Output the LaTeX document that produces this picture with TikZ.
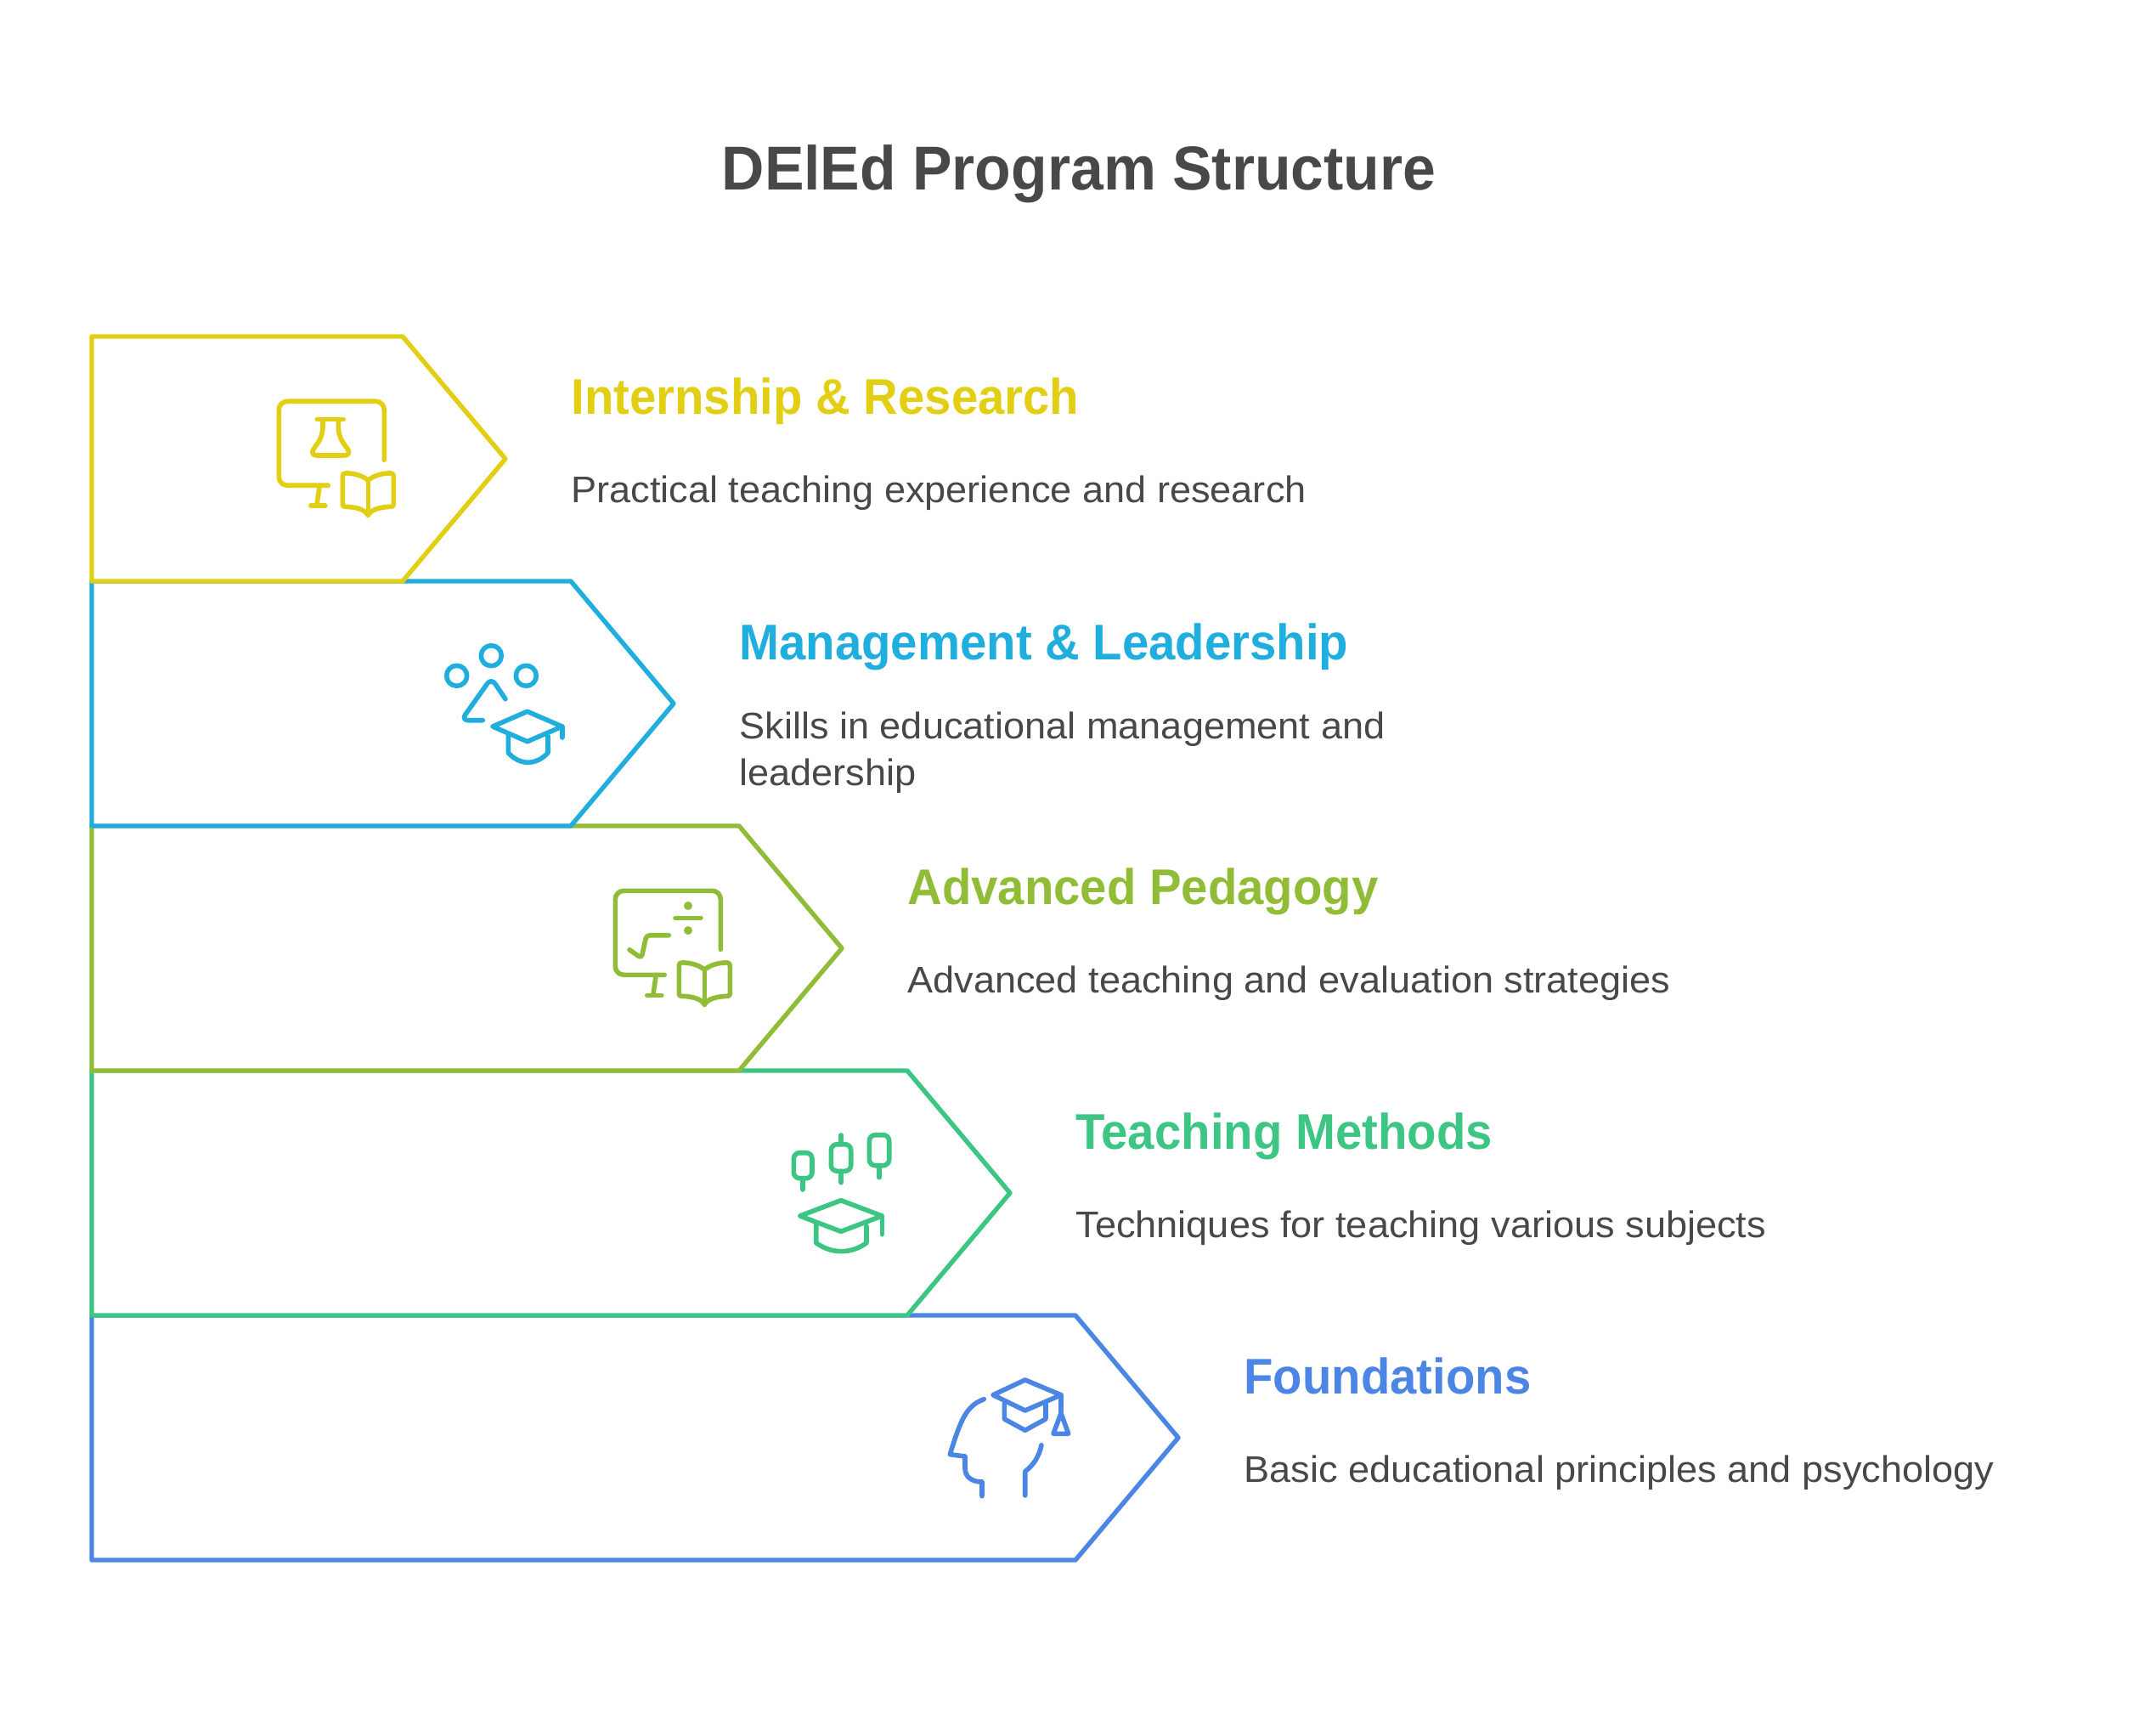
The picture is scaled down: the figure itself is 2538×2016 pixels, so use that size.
\documentclass[tikz,border=0pt]{standalone}
\usepackage{fontspec}
\setmainfont[FakeStretch=1.035]{Liberation Sans}
\newfontfamily\headfont[FakeStretch=0.955,UprightFont={* Bold}]{Liberation Sans}
\usetikzlibrary{positioning}

\definecolor{yellowc}{HTML}{E2CF14}
\definecolor{bluec}{HTML}{1FAEDD}
\definecolor{greenc}{HTML}{91BC38}
\definecolor{tealc}{HTML}{3CC583}
\definecolor{indigoc}{HTML}{4C86E4}
\definecolor{textc}{HTML}{484848}

\tikzset{
  pics/screenbook/.style={code={
      % screen and stand
      \draw[rounded corners=5pt] (58,99) -- (0,99) -- (0,0) -- (124,0) -- (124,69);
      \draw (48,99) -- (44.5,123);
      \draw (37.5,123) -- (54.5,123);
      % book
      \begin{scope}[shift={(105,93)}]
        \draw (0,0) -- (0,41);
        \draw (0,0) .. controls (-6,-5) and (-14,-8) .. (-26,-8.5) .. controls (-29,-8.5) and (-30,-7) .. (-30,-5) -- (-30,28) .. controls (-30,30) and (-29,31) .. (-27,31) .. controls (-14,31.5) and (-4,34) .. (0,41);
        \draw (0,0) .. controls (6,-5) and (14,-8) .. (26,-8.5) .. controls (29,-8.5) and (30,-7) .. (30,-5) -- (30,28) .. controls (30,30) and (29,31) .. (27,31) .. controls (14,31.5) and (4,34) .. (0,41);
      \end{scope}
  }}
}

\begin{document}
\begin{tikzpicture}[x=0.5pt, y=-0.5pt,
                chevron/.style={line width=2.7pt, line join=round, fill=white},
                icon/.style={line width=2.8pt, line cap=round, line join=round},
                heading/.style={anchor=base west, inner sep=0pt, font=\fontsize{29.5}{34}\headfont},
                desc/.style={anchor=base west, align=left, text=textc, inner sep=0pt, font=\fontsize{21.8}{27.2}\selectfont}]

                \useasboundingbox (0,0) rectangle (2538,2016);

                % Title
                \node[font=\fontsize{36.5}{42}\headfont, text=textc, anchor=base] (title) at (1270,224) {DElEd Program Structure};

                % Chevrons, bottom first
                \draw[chevron, draw=indigoc] (108,1548) -- (1266,1548) -- (1387,1692) -- (1266,1836) -- (108,1836) -- cycle;
                \draw[chevron, draw=tealc] (108,1260) -- (1068,1260) -- (1189,1404) -- (1068,1548) -- (108,1548) -- cycle;
                \draw[chevron, draw=greenc] (108,972) -- (870,972) -- (991,1116) -- (870,1260) -- (108,1260) -- cycle;
                \draw[chevron, draw=bluec] (108,684) -- (672,684) -- (793,828) -- (672,972) -- (108,972) -- cycle;
                \draw[chevron, draw=yellowc] (108,396) -- (474,396) -- (595,540) -- (474,684) -- (108,684) -- cycle;

                % Internship icon
                \begin{scope}[icon, draw=yellowc]
                  \pic at (328.3,472.3) {screenbook};
                  \draw (373.3,493.7) -- (404.3,493.7);
                  \draw[rounded corners=4.5pt] (380,493.7) -- (380,512.7) -- (364,536) -- (414.3,536) -- (398.3,512.7) -- (398.3,493.7);
                \end{scope}

                % Management icon
                \begin{scope}[icon, draw=bluec]
                  \draw (537.7,795.3) circle (12);
                  \draw (578.3,771.7) circle (12);
                  \draw (619.3,795.3) circle (12);
                  \draw[rounded corners=4pt] (595,822.7) -- (578.3,798) -- (543,847.7) -- (568.3,847.7);
                  \draw (620.7,837.3) -- (661.7,855) -- (620.7,872.7) -- (580,855) -- cycle;
                  \draw (661.7,855) -- (661.7,868);
                  \draw (598.3,865) -- (598.3,886) .. controls (612,901) and (631,901) .. (645,886) -- (645,866);
                \end{scope}

                % Pedagogy icon
                \begin{scope}[icon, draw=greenc]
                  \pic at (724.3,1048.3) {screenbook};
                  \draw (795,1080.3) -- (825,1080.3);
                  \fill[greenc] (810,1066) circle (5);
                  \fill[greenc] (810,1095) circle (5);
                  \draw[rounded corners=2pt] (741,1117.7) -- (755,1127.7) -- (761,1100.7) -- (787.3,1100.7);
                \end{scope}

                % Methods icon
                \begin{scope}[icon, draw=tealc]
                  \draw[rounded corners=3.5pt] (934.3,1356.7) rectangle (956,1386.7);
                  \draw (945,1386.7) -- (945,1400);
                  \draw[rounded corners=3.5pt] (978.3,1346.7) rectangle (1001.7,1378.3);
                  \draw (990,1336) -- (990,1346.7);
                  \draw (990,1378.3) -- (990,1391.7);
                  \draw[rounded corners=3.5pt] (1023.3,1335.7) rectangle (1046.7,1371.7);
                  \draw (1035,1371.7) -- (1035,1385.7);
                  \draw (990,1412.7) -- (1038.3,1431) -- (990,1449.3) -- (941.7,1431) -- cycle;
                  \draw (1038.3,1431) -- (1038.3,1452.7);
                  \draw (960.7,1441.7) -- (960.7,1462.7) .. controls (979,1476) and (1002,1476) .. (1020,1462.7) -- (1020,1442.7);
                \end{scope}

                % Foundations icon
                \begin{scope}[icon, draw=indigoc]
                  \draw (1206.7,1624) -- (1249,1641.7) -- (1206.7,1660) -- (1169,1641.7) -- cycle;
                  \draw (1249,1641.7) -- (1249,1663.3);
                  \draw (1249,1663.3) -- (1257.7,1687.3) -- (1240,1687.3) -- cycle;
                  \draw (1182.3,1651.7) -- (1182.3,1670) -- (1206.7,1683.3) -- (1231,1670) -- (1231,1651.7);
                  \draw (1158.3,1646.7) .. controls (1138,1654) and (1131,1670) .. (1118.3,1711.7) -- (1136,1714) -- (1136,1728.3) .. controls (1136,1738) and (1144,1744) .. (1156,1744) -- (1156,1760.7);
                  \draw (1226,1700.7) .. controls (1223,1714) and (1217,1724) .. (1206.7,1731.7) -- (1206.7,1760);
                \end{scope}

                % Labels
                \node[heading, text=yellowc] (head1) at (672,488) {Internship \& Research};
                \node[desc] (desc1) at (672,592) {Practical teaching experience and research};
                \node[heading, text=bluec] (head2) at (870,776) {Management \& Leadership};
                \node[desc] (desc2) at (870,924) {Skills in educational management and\\leadership};
                \node[heading, text=greenc] (head3) at (1068,1064) {Advanced Pedagogy};
                \node[desc] (desc3) at (1068,1168) {Advanced teaching and evaluation strategies};
                \node[heading, text=tealc] (head4) at (1266,1352) {Teaching Methods};
                \node[desc] (desc4) at (1266,1456) {Techniques for teaching various subjects};
                \node[heading, text=indigoc] (head5) at (1464,1640) {Foundations};
                \node[desc] (desc5) at (1464,1744) {Basic educational principles and psychology};
            \end{tikzpicture}
\end{document}
